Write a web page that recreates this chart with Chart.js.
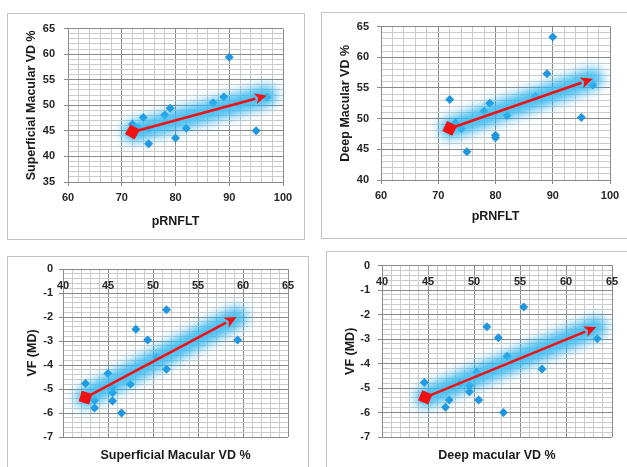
<!DOCTYPE html>
<html>
<head>
<meta charset="utf-8">
<script src="https://cdn.jsdelivr.net/npm/chart.js@4.4.1/dist/chart.umd.min.js"></script>
<style>
  body { margin: 0; width: 627px; height: 467px; overflow: hidden; position: relative; background: #fff; }
  .caixa { position: absolute; border: 1px solid #c3c3c3; box-sizing: border-box; overflow: visible; }
  .caixa canvas { position: absolute; left: -1px; top: -1px; }
</style>
</head>
<body>
<script>
// ---------- DADOS ----------
// Painel 1: pRNFLT x VD macular superficial
const rnflt1 = [72, 73, 74, 75, 75, 78, 79, 80, 82, 87, 89, 90, 95, 97];
const vdSup1 = [46.3, 45.6, 47.6, 45.5, 42.5, 48.1, 49.4, 43.6, 45.5, 50.5, 51.6, 59.4, 45.0, 51.6];
const tendSup1 = [[72, 44.8], [97, 51.9]];

// Painel 2: pRNFLT x VD macular profundo
const rnflt2 = [72, 73, 74, 75, 78, 79, 80, 80, 82, 87, 89, 90, 95, 97];
const vdProf2 = [53.1, 49.3, 48.4, 44.6, 51.2, 52.5, 47.3, 46.9, 50.5, 53.6, 57.3, 63.3, 50.2, 55.5];
const tendProf2 = [[72, 48.4], [97, 56.5]];

// Painel 3: VD superficial x VF (MD)
const vdSup3 = [42.5, 43.5, 43.5, 45.0, 45.5, 45.5, 45.5, 46.5, 47.5, 48.1, 49.4, 50.4, 51.5, 51.5, 59.4];
const vfMD3 = [-4.77, -5.47, -5.79, -4.35, -4.91, -5.16, -5.5, -6.0, -4.8, -2.51, -2.96, -3.68, -1.7, -4.18, -2.96];
const tendVF3 = [[42.5, -5.36], [59.3, -2.0]];

// Painel 4: VD profundo x VF (MD)
const vdProf4 = [44.6, 46.9, 47.3, 48.5, 49.5, 49.5, 50.3, 50.5, 51.4, 52.65, 53.2, 53.6, 55.4, 57.4, 63.4];
const vfMD4 = [-4.77, -5.78, -5.49, -4.8, -4.9, -5.15, -4.36, -5.49, -2.5, -2.95, -6.0, -3.7, -1.69, -4.22, -2.99];
const tendVF4 = [[44.7, -5.38], [63.3, -2.51]];

// ---------- PLUGIN DA SETA ----------
const setaPlugin = {
  id: 'seta',
  afterDatasetsDraw(chart, args, opts) {
    if (!opts.linha) return;
    const { ctx, scales: { x, y } } = chart;
    const x0 = x.getPixelForValue(opts.linha[0][0]);
    const y0 = y.getPixelForValue(opts.linha[0][1]);
    const x1 = x.getPixelForValue(opts.linha[1][0]);
    const y1 = y.getPixelForValue(opts.linha[1][1]);
    const ang = Math.atan2(y1 - y0, x1 - x0);

    ctx.save();
    // brilho azul
    ctx.filter = 'blur(6px)';
    ctx.strokeStyle = 'rgba(30,175,240,0.85)';
    ctx.lineWidth = 20;
    ctx.lineCap = 'round';
    ctx.beginPath();
    ctx.moveTo(x0, y0);
    ctx.lineTo(x1, y1);
    ctx.stroke();
    ctx.filter = 'blur(3px)';
    ctx.strokeStyle = 'rgba(90,200,245,0.6)';
    ctx.lineWidth = 10;
    ctx.beginPath();
    ctx.moveTo(x0, y0);
    ctx.lineTo(x1, y1);
    ctx.stroke();
    ctx.filter = 'none';

    // linha vermelha
    const hx = x1 - Math.cos(ang) * 12;
    const hy = y1 - Math.sin(ang) * 12;
    ctx.strokeStyle = '#f21010';
    ctx.fillStyle = '#f21010';
    ctx.lineWidth = 2.6;
    ctx.lineCap = 'butt';
    ctx.beginPath();
    ctx.moveTo(x0, y0);
    ctx.lineTo(hx, hy);
    ctx.stroke();

    // ponta
    const px = -Math.sin(ang) * 5.5, py = Math.cos(ang) * 5.5;
    ctx.beginPath();
    ctx.moveTo(x1, y1);
    ctx.lineTo(hx + px, hy + py);
    ctx.lineTo(hx + Math.cos(ang) * 3, hy + Math.sin(ang) * 3);
    ctx.lineTo(hx - px, hy - py);
    ctx.closePath();
    ctx.fill();

    // losango inicial
    ctx.translate(x0, y0);
    ctx.rotate(ang + Math.PI / 4);
    ctx.fillRect(-5.5, -5.5, 11, 11);
    ctx.restore();
  }
};

// ---------- UTIL ----------
function ehMaior(v, m) {
  const q = v / m;
  return Math.abs(q - Math.round(q)) < 1e-6;
}

const fonteTick = { family: '"Liberation Sans", Arial, sans-serif', size: 11, weight: 'bold' };
const fonteTitulo = { family: '"Liberation Sans", Arial, sans-serif', size: 12.5, weight: 'bold' };
const corMaior = '#8a8a8a';
const corMenor = '#cbcbcb';

// ---------- CRIAR PAINEL ----------
function criarPainel(p) {
  const [bx, by, bw, bh] = p.caixa;
  const [aL, aT, aR, aB] = p.area;
  const div = document.createElement('div');
  div.className = 'caixa';
  div.style.left = bx + 'px';
  div.style.top = by + 'px';
  div.style.width = bw + 'px';
  div.style.height = bh + 'px';
  const cv = document.createElement('canvas');
  cv.width = bw;
  cv.height = bh;
  div.appendChild(cv);
  document.body.appendChild(div);

  const lh = fonteTitulo.size * 1.2;
  const L = aL - bx, T = aT - by, R = aR - bx, B = aB - by;
  const padLeft = p.tituloYx - bx - lh / 2;
  const larguraY = L - padLeft;

  let padBottom, alturaX = 0, tituloTopo = 0;
  if (p.eixoNoZero) {
    tituloTopo = p.tituloXy - by - B - lh / 2;
    padBottom = bh - B - tituloTopo - lh;
  } else {
    const fundoX = p.tituloXy - by + lh / 2;
    alturaX = fundoX - B;
    padBottom = bh - fundoX;
  }

  const pontos = p.xs.map((x, i) => ({ x: x, y: p.ys[i] }));

  new Chart(cv, {
    type: 'scatter',
    data: {
      datasets: [{
        data: pontos,
        pointStyle: 'rectRot',
        pointRadius: 4.5,
        backgroundColor: '#2196e0',
        borderWidth: 0
      }]
    },
    options: {
      responsive: false,
      animation: false,
      layout: { padding: { left: padLeft, top: T, right: bw - R, bottom: padBottom } },
      plugins: {
        legend: { display: false },
        tooltip: { enabled: false },
        title: {
          display: !!p.eixoNoZero,
          position: 'bottom',
          fullSize: false,
          text: p.tituloX,
          font: fonteTitulo,
          color: '#1a1a1a',
          padding: { top: tituloTopo, bottom: 0 }
        },
        seta: { linha: p.tendencia }
      },
      scales: {
        x: {
          type: 'linear',
          position: p.eixoNoZero ? { y: 0 } : 'bottom',
          min: p.xMin, max: p.xMax,
          afterFit: s => { if (!p.eixoNoZero) s.height = alturaX; },
          ticks: {
            stepSize: p.xPasso, autoSkip: false, maxRotation: 0,
            padding: p.eixoNoZero ? 6 : 5,
            font: fonteTick, color: '#262626',
            callback: v => ehMaior(v, p.xMaior) ? Math.round(v) : ''
          },
          grid: {
            tickLength: 4,
            color: c => ehMaior(c.tick.value, p.xMaior) ? corMaior : corMenor,
            tickColor: c => ehMaior(c.tick.value, p.xMaior) ? corMaior : 'rgba(0,0,0,0)'
          },
          border: { color: corMaior },
          title: {
            display: !p.eixoNoZero,
            text: p.tituloX,
            font: fonteTitulo, color: '#1a1a1a',
            padding: 0
          }
        },
        y: {
          type: 'linear',
          min: p.yMin, max: p.yMax,
          afterFit: s => { s.width = larguraY; },
          ticks: {
            stepSize: p.yPasso, autoSkip: false,
            padding: p.padY,
            font: fonteTick, color: '#262626',
            callback: v => ehMaior(v, p.yMaior) ? Math.round(v) : ''
          },
          grid: {
            tickLength: 4,
            color: c => ehMaior(c.tick.value, p.yMaior) ? corMaior : corMenor,
            tickColor: c => ehMaior(c.tick.value, p.yMaior) ? corMaior : 'rgba(0,0,0,0)'
          },
          border: { color: corMaior },
          title: {
            display: true,
            text: p.tituloY,
            font: fonteTitulo, color: '#1a1a1a',
            padding: 0
          }
        }
      }
    },
    plugins: [setaPlugin]
  });
}

// ---------- PAINÉIS ----------
criarPainel({
  caixa: [7, 13, 298, 227], area: [68, 26, 283, 182], tituloYx: 32, tituloXy: 222,
  xs: rnflt1, ys: vdSup1, tendencia: tendSup1,
  xMin: 60, xMax: 100, xPasso: 2, xMaior: 10,
  yMin: 35, yMax: 65, yPasso: 1, yMaior: 5, padY: 9,
  tituloX: 'pRNFLT', tituloY: 'Superficial Macular VD %'
});

criarPainel({
  caixa: [321, 12, 310, 227], area: [381, 24, 610, 180], tituloYx: 346, tituloXy: 217,
  xs: rnflt2, ys: vdProf2, tendencia: tendProf2,
  xMin: 60, xMax: 100, xPasso: 2, xMaior: 10,
  yMin: 40, yMax: 65, yPasso: 1, yMaior: 5, padY: 8,
  tituloX: 'pRNFLT', tituloY: 'Deep Macular VD %'
});

criarPainel({
  caixa: [7, 256, 302, 215], area: [63, 269, 288, 437], tituloYx: 33, tituloXy: 456,
  eixoNoZero: true,
  xs: vdSup3, ys: vfMD3, tendencia: tendVF3,
  xMin: 40, xMax: 65, xPasso: 1, xMaior: 5,
  yMin: -7, yMax: 0, yPasso: 0.2, yMaior: 1, padY: 6,
  tituloX: 'Superficial Macular VD %', tituloY: 'VF (MD)'
});

criarPainel({
  caixa: [326, 251, 305, 220], area: [382, 264, 612, 437], tituloYx: 351, tituloXy: 456,
  eixoNoZero: true,
  xs: vdProf4, ys: vfMD4, tendencia: tendVF4,
  xMin: 40, xMax: 65, xPasso: 1, xMaior: 5,
  yMin: -7, yMax: 0, yPasso: 0.2, yMaior: 1, padY: 8,
  tituloX: 'Deep macular VD %', tituloY: 'VF (MD)'
});
</script>
</body>
</html>
